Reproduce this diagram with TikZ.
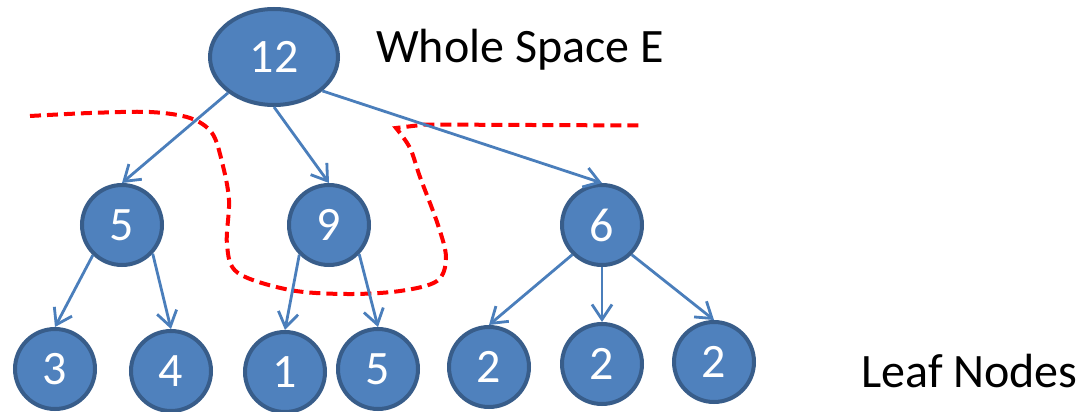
\documentclass[tikz,border=0pt]{standalone}
\usepackage{fontspec}
\setmainfont{Carlito}
\usetikzlibrary{arrows.meta,shapes.geometric}
\definecolor{nodefill}{HTML}{4F81BD}
\definecolor{nodeline}{HTML}{385D8A}
\definecolor{edgeblue}{HTML}{4A7EBB}
\begin{document}
\begin{tikzpicture}[x=1pt,y=-1pt,
  treenode/.style={circle, fill=nodefill, draw=nodeline, line width=4pt,
    minimum size=80pt, inner sep=0pt, text=white,
    font=\fontsize{48}{48}\selectfont},
  rootnode/.style={treenode, ellipse, minimum width=128pt, minimum height=96pt},
  link/.style={draw=edgeblue, line width=2.8pt,
    -{Straight Barb[length=15pt,width=20pt]}},
  cut/.style={draw=red, line width=4pt, dash pattern=on 11pt off 6pt},
  caption/.style={anchor=base west, inner sep=0pt,
    font=\fontsize{48}{48}\selectfont}]
\useasboundingbox (0,0) rectangle (1077,412);

% partition boundary
\draw[cut] plot[smooth, tension=0.55] coordinates {
  (30,116) (90,113) (150,112) (190,118) (212,133) (222,162) (229,200)
  (227,245) (238,273) (290,290) (347,294) (400,291) (437,281) (446,258)
  (438,225) (420,177) (410,148) (396,128)}
  -- (425,124.5) -- (640,125.5);

% tree nodes
\node[rootnode] (root) at (274,57) {12};
\node[treenode] (a) at (122,225) {5};
\node[treenode] (b) at (329,225) {9};
\node[treenode] (c) at (602,225) {6};
\node[treenode] (a1) at (55,369) {3};
\node[treenode] (a2) at (171,371) {4};
\node[treenode] (b1) at (285,372) {1};
\node[treenode] (b2) at (378,369) {5};
\node[treenode] (c1) at (489,367) {2};
\node[treenode] (c2) at (602,364) {2};
\node[treenode] (c3) at (714,362) {2};

% captions
\node[caption] (whole) at (376,63) {Whole Space E};
\node[caption] (leaf) at (861,387) {Leaf Nodes};

% edges
\draw[link] (root.218) -- (a.north);
\draw[link] (root.south) -- (b.north);
\draw[link] (root.325) -- (c.north);
\draw[link] (a.226) -- (a1.north);
\draw[link] (a.317) -- (a2.north);
\draw[link] (b.225) -- (b1.north);
\draw[link] (b.316) -- (b2.north);
\draw[link] (c.225) -- (c1.north);
\draw[link] (c.south) -- (c2.north);
\draw[link] (c.315) -- (c3.north);
\end{tikzpicture}
\end{document}
